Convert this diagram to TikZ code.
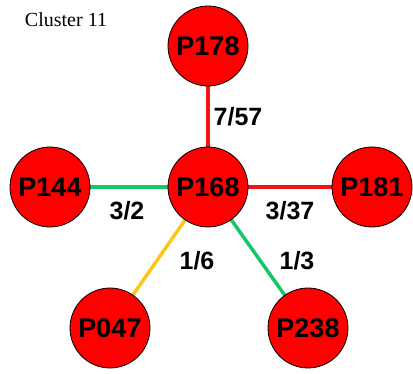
\documentclass[tikz,border=0pt]{standalone}
\usepackage{fontspec}
\setmainfont{Liberation Serif}
\newfontfamily\labelfont{Liberation Sans}
\begin{document}
\begin{tikzpicture}[x=1pt,y=-1pt,
  pnode/.style={circle,fill=red,draw=black,line width=0.8pt,minimum size=80pt,inner sep=0pt,
    font=\labelfont\bfseries\fontsize{27}{27}\selectfont},
  edge/.style={line width=3.5pt},
  elabel/.style={font=\labelfont\bfseries\fontsize{25}{25}\selectfont}]
\definecolor{ered}{RGB}{240,20,20}
\definecolor{egreen}{RGB}{20,200,100}
\definecolor{eyellow}{RGB}{250,200,20}
\useasboundingbox (0,0) rectangle (413,374);
\node[font=\fontsize{20}{20}\selectfont] (title) at (66,20) {Cluster 11};
% edges first, nodes drawn on top
\coordinate (c178) at (208,46);
\coordinate (c168) at (208,187);
\coordinate (c144) at (50,187);
\coordinate (c181) at (372,187);
\coordinate (c047) at (110,328);
\coordinate (c238) at (308,328);
\draw[edge,ered] (c168) -- (c178);
\draw[edge,ered] (c168) -- (c181);
\draw[edge,egreen] (c168) -- (c144);
\draw[edge,eyellow] (c168) -- (c047);
\draw[edge,egreen] (c168) -- (c238);
\node[pnode] (P178) at (c178) {P178};
\node[pnode] (P168) at (c168) {P168};
\node[pnode] (P144) at (c144) {P144};
\node[pnode] (P181) at (c181) {P181};
\node[pnode] (P047) at (c047) {P047};
\node[pnode] (P238) at (c238) {P238};
\node[elabel] (l1) at (238,117) {7/57};
\node[elabel] (l2) at (127,211) {3/2};
\node[elabel] (l3) at (290,211) {3/37};
\node[elabel] (l4) at (197,261) {1/6};
\node[elabel] (l5) at (297,261) {1/3};
\end{tikzpicture}
\end{document}
